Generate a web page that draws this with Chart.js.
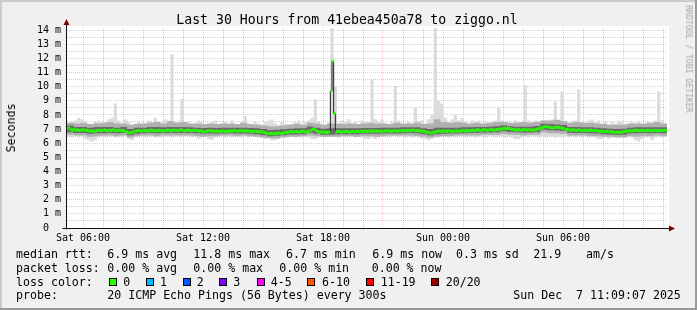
<!DOCTYPE html>
<html>
<head>
<meta charset="utf-8">
<script src="https://cdn.jsdelivr.net/npm/chart.js@4"></script>
<style>
  html, body { margin: 0; padding: 0; background: #f0f0f0; }
  #wrap { position: relative; width: 697px; height: 310px; overflow: hidden; }
  #smoke { position: absolute; left: 0; top: 0; display: block; }
  .t { position: absolute; font-family: 'DejaVu Sans Mono', monospace; white-space: pre; color: #000; }
  .leg { font-size: 11.6px; line-height: 14px; }
  .box { position: absolute; width: 6px; height: 6px; border: 1px solid #000; }
</style>
</head>
<body>
<div id="wrap">
  <canvas id="smoke" width="697" height="310"></canvas>

  <div class="t" style="font-size:13.2px; line-height:16px; left:347px; top:11.8px; transform:translateX(-50%);">Last 30 Hours from 41ebea450a78 to ziggo.nl</div>
  <div class="t" style="font-size:11.6px; line-height:14px; left:11px; top:128px; transform:translate(-50%,-50%) rotate(-90deg);">Seconds</div>
  <div class="t" style="font-size:8.1px; line-height:10px; left:689px; top:58.5px; color:#a4a4a4; transform:translate(-50%,-50%) rotate(90deg);">RRDTOOL / TOBI OETIKER</div>

  <div class="t leg" style="left:16px; top:247.3px;">median rtt:</div>
  <div class="t leg" style="left:107.3px; top:247.3px;">6.9 ms avg</div>
  <div class="t leg" style="left:193.3px; top:247.3px;">11.8 ms max</div>
  <div class="t leg" style="left:286px; top:247.3px;">6.7 ms min</div>
  <div class="t leg" style="left:372.3px; top:247.3px;">6.9 ms now</div>
  <div class="t leg" style="left:456px; top:247.3px;">0.3 ms sd</div>
  <div class="t leg" style="left:533.3px; top:247.3px;">21.9</div>
  <div class="t leg" style="left:586px; top:247.3px;">am/s</div>

  <div class="t leg" style="left:16px; top:260.6px;">packet loss:</div>
  <div class="t leg" style="left:107.3px; top:260.6px;">0.00 % avg</div>
  <div class="t leg" style="left:193.3px; top:260.6px;">0.00 % max</div>
  <div class="t leg" style="left:279.3px; top:260.6px;">0.00 % min</div>
  <div class="t leg" style="left:371.7px; top:260.6px;">0.00 % now</div>

  <div class="t leg" style="left:16px; top:274.6px;">loss color:</div>
  <div id="lossLegend"></div>

  <div class="t leg" style="left:16px; top:288px;">probe:</div>
  <div class="t leg" style="left:107.3px; top:288px;">20 ICMP Echo Pings (56 Bytes) every 300s</div>
  <div class="t leg" style="left:513.3px; top:288px;">Sun Dec  7 11:09:07 2025</div>
</div>

<script>
// graph window: minutes since Sat 00:00, 30 hours wide
const startMin = 312;
const endMin = startMin + 30 * 60;

const timeTicks = [360, 720, 1080, 1440, 1800];
const timeLabels = ['Sat 06:00', 'Sat 12:00', 'Sat 18:00', 'Sun 00:00', 'Sun 06:00'];

const lossLabels = ['0', '1', '2', '3', '4-5', '6-10', '11-19', '20/20'];
const lossColors = ['#26ff00', '#00b8ff', '#0059ff', '#7e00ff', '#ff00ff', '#ff5500', '#ff0000', '#a00000'];

// median rtt in ms, one value per 5 minutes
const medianRtt = [
  7.05, 7.08, 6.95, 6.93, 6.97, 6.92, 6.94, 6.9, 6.93, 6.95, 6.91, 6.93, 6.9,
  6.88, 6.85, 6.87, 6.83, 6.88,
  6.9, 6.92, 6.88, 6.91, 6.93, 6.9, 6.89, 6.92, 6.9, 6.94, 6.91, 6.88, 6.9, 6.92, 6.89, 6.9, 6.87,
  6.8, 6.75, 6.72, 6.74, 6.78, 6.82,
  6.86, 6.88, 6.9, 6.87, 6.89, 6.91, 6.88, 6.86, 6.9, 6.92, 6.89, 6.87, 6.9, 6.88, 6.91, 6.89, 6.86, 6.88, 6.9,
  6.92, 6.9, 6.88, 6.91, 6.93, 6.9, 6.89, 6.92, 6.95, 6.91, 6.88, 6.9, 6.93, 6.9, 6.87, 6.89, 6.92, 6.9, 6.88, 6.86, 6.88,
  6.84, 6.8, 6.83, 6.87, 6.9, 6.88,
  6.85, 6.83, 6.86, 6.84, 6.82, 6.85, 6.87, 6.84, 6.83, 6.86, 6.88, 6.85,
  6.87, 6.89, 6.86, 6.84, 6.88, 6.9, 6.87, 6.85, 6.88, 6.86, 6.84, 6.85,
  6.82, 6.84, 6.81, 6.83, 6.8, 6.82, 6.79, 6.76, 6.72,
  6.68, 6.66, 6.69, 6.67, 6.7, 6.68, 6.72, 6.7, 6.68, 6.71, 6.74, 6.76,
  6.78, 6.8, 6.82, 6.79, 6.81, 6.83, 6.8, 6.78, 6.82, 6.84, 6.81, 6.8, 6.83, 6.86, 6.92,
  7.0, 6.98, 6.9, 6.82,
  6.78, 6.8, 6.77, 6.79, 6.76, 6.78, 6.8,
  9.7, 11.8, 8.1,
  6.8, 6.83, 6.81, 6.78, 6.82, 6.8, 6.84, 6.82, 6.79, 6.81, 6.83, 6.8, 6.82, 6.84, 6.81,
  6.85, 6.83, 6.86, 6.84, 6.82, 6.85, 6.87, 6.84, 6.86, 6.88, 6.85, 6.83, 6.86, 6.84, 6.87, 6.85, 6.88, 6.86, 6.84, 6.87, 6.89, 6.86, 6.85, 6.88,
  6.88, 6.9, 6.87, 6.89, 6.91, 6.88, 6.9, 6.92, 6.89, 6.87, 6.9, 6.88, 6.86, 6.84, 6.82, 6.8,
  6.76, 6.74, 6.72, 6.75, 6.78, 6.82,
  6.84, 6.86, 6.83, 6.85, 6.87, 6.84, 6.86, 6.88, 6.85, 6.83, 6.86, 6.88, 6.86, 6.84, 6.87, 6.89, 6.86, 6.88, 6.9, 6.87,
  6.9, 6.92, 6.89, 6.93, 6.95, 6.92, 6.9, 6.94, 6.96, 6.93, 6.91, 6.95, 6.97, 6.94, 6.92, 6.96, 6.98, 6.95,
  7.0, 7.03, 7.05, 7.02, 7.06, 7.04, 7.0, 6.98,
  6.95, 6.93, 6.96, 6.94, 6.92, 6.95, 6.97, 6.94, 6.93, 6.96, 6.94, 6.92, 6.95, 6.98, 7.0, 7.04, 7.08,
  7.12, 7.16, 7.18, 7.15, 7.12, 7.1,
  7.08, 7.1, 7.12, 7.14, 7.11, 7.08, 7.05, 7.02, 6.98,
  6.96, 6.94, 6.92, 6.95, 6.93, 6.9, 6.92, 6.94, 6.91, 6.89, 6.92, 6.9, 6.88, 6.91, 6.93, 6.9, 6.88, 6.9, 6.87, 6.85, 6.84,
  6.82, 6.84, 6.81, 6.83, 6.8, 6.82, 6.79, 6.77, 6.76, 6.78, 6.75, 6.77, 6.8, 6.83, 6.85,
  6.87, 6.89, 6.86, 6.88, 6.9, 6.92, 6.89, 6.87, 6.9, 6.91, 6.88, 6.9, 6.92, 6.89, 6.87, 6.9, 6.92, 6.9, 6.88, 6.91, 6.89, 6.9, 6.92, 6.9
];

// slowest and fastest ping, one value per 10 minutes
const pingMax = [
  7.4, 7.5, 7.6, 7.8, 7.7, 7.5, 7.4, 7.3, 7.5, 7.6,
  7.4, 7.5, 7.7, 7.8, 8.8, 7.6, 7.4, 7.7, 7.5, 7.3,
  7.4, 7.5, 7.3, 7.4, 7.6, 7.5, 7.8, 7.4, 7.5, 7.7,
  7.6, 12.3, 7.5, 7.6, 9.15, 7.4, 7.5, 7.3, 7.4, 7.6,
  7.5, 7.3, 7.4, 7.5, 7.6, 7.3, 7.4, 7.5, 7.3, 7.6,
  7.4, 7.3, 7.5, 7.9, 7.4, 7.3, 7.5, 7.4, 7.3, 7.5,
  7.6, 7.7, 7.4, 7.3, 7.5, 7.4, 7.3, 7.4, 7.5, 7.6,
  7.4, 7.5, 7.6, 7.8, 9.1, 7.5, 7.4, 7.3, 7.4, 14.3,
  10.0, 7.4, 7.6, 7.5, 7.7, 7.4, 7.5, 7.3, 7.6, 7.5,
  7.4, 10.55, 7.7, 7.5, 7.7, 7.4, 7.3, 7.5, 10.05, 7.6,
  7.4, 7.3, 7.5, 7.4, 8.5, 7.5, 7.6, 7.4, 7.7, 8.0,
  14.3, 9.0, 8.8, 7.8, 7.5, 7.7, 8.0, 7.6, 7.8, 7.5,
  7.4, 7.6, 7.5, 7.6, 7.4, 7.5, 7.3, 7.5, 7.6, 8.5,
  7.6, 7.4, 7.5, 7.4, 7.6, 7.5, 7.4, 10.1, 7.6, 7.5,
  7.6, 7.4, 7.5, 7.6, 7.5, 7.7, 8.95, 7.6, 9.65, 7.5,
  7.4, 7.5, 7.6, 9.8, 7.5, 7.4, 7.6, 7.7, 7.5, 7.6,
  7.4, 7.5, 7.3, 7.5, 7.4, 7.6, 7.5, 7.4, 7.3, 7.5,
  7.4, 7.5, 7.3, 7.4, 7.5, 7.4, 7.6, 9.65, 7.6, 7.4
];
const pingMin = [
  6.5, 6.4, 6.5, 6.4, 6.5, 6.3, 6.2, 6.1, 6.2, 6.4,
  6.5, 6.4, 6.5, 6.5, 6.4, 6.5, 6.4, 6.5, 6.3, 6.2,
  6.4, 6.5, 6.5, 6.4, 6.5, 6.5, 6.4, 6.5, 6.4, 6.5,
  6.5, 6.4, 6.5, 6.5, 6.4, 6.5, 6.5, 6.4, 6.5, 6.3,
  6.4, 6.5, 6.3, 6.2, 6.4, 6.5, 6.5, 6.4, 6.5, 6.4,
  6.5, 6.5, 6.4, 6.5, 6.4, 6.5, 6.5, 6.4, 6.4, 6.3,
  6.4, 6.2, 6.2, 6.3, 6.4, 6.5, 6.4, 6.5, 6.4, 6.5,
  6.4, 6.5, 6.4, 6.3, 6.3, 6.4, 6.5, 6.4, 6.5, 6.5,
  6.6, 6.4, 6.5, 6.4, 6.5, 6.5, 6.4, 6.5, 6.4, 6.3,
  6.3, 6.4, 6.3, 6.4, 6.5, 6.5, 6.4, 6.5, 6.5, 6.4,
  6.5, 6.4, 6.5, 6.4, 6.5, 6.4, 6.3, 6.3, 6.2, 6.3,
  6.4, 6.4, 6.5, 6.5, 6.4, 6.5, 6.4, 6.5, 6.5, 6.4,
  6.5, 6.5, 6.4, 6.5, 6.5, 6.4, 6.5, 6.5, 6.4, 6.5,
  6.5, 6.4, 6.5, 6.4, 6.3, 6.3, 6.4, 6.5, 6.4, 6.5,
  6.5, 6.4, 6.5, 6.4, 6.5, 6.5, 6.4, 6.5, 6.4, 6.5,
  6.4, 6.5, 6.4, 6.5, 6.4, 6.5, 6.4, 6.5, 6.4, 6.3,
  6.3, 6.4, 6.3, 6.4, 6.5, 6.4, 6.5, 6.4, 6.5, 6.4,
  6.2, 6.1, 6.3, 6.4, 6.5, 6.2, 6.4, 6.5, 6.4, 6.5
];

// outer and inner smoke bands, one value per 20 minutes
const bandHi = [
  7.45, 7.4, 7.45, 7.35, 7.4, 7.45, 7.5, 7.4, 7.4, 7.3,
  7.35, 7.4, 7.45, 7.5, 7.4, 7.55, 7.45, 7.5, 7.4, 7.4,
  7.35, 7.4, 7.35, 7.4, 7.4, 7.35, 7.45, 7.35, 7.3, 7.25,
  7.2, 7.2, 7.25, 7.3, 7.35, 7.3, 7.45, 7.4, 7.3, 7.4,
  7.4, 7.35, 7.4, 7.35, 7.4, 7.45, 7.4, 7.4, 7.35, 7.45,
  7.4, 7.4, 7.45, 7.35, 7.4, 7.7, 7.5, 7.45, 7.5, 7.45,
  7.4, 7.45, 7.4, 7.45, 7.5, 7.5, 7.45, 7.45, 7.5, 7.45,
  7.5, 7.6, 7.6, 7.65, 7.55, 7.45, 7.5, 7.45, 7.45, 7.4,
  7.35, 7.3, 7.3, 7.3, 7.4, 7.4, 7.4, 7.45, 7.5, 7.4
];
const bandLo = [
  6.6, 6.55, 6.55, 6.45, 6.5, 6.55, 6.55, 6.5, 6.55, 6.4,
  6.5, 6.55, 6.55, 6.5, 6.55, 6.55, 6.55, 6.55, 6.55, 6.5,
  6.45, 6.5, 6.5, 6.55, 6.55, 6.5, 6.55, 6.5, 6.45, 6.4,
  6.35, 6.35, 6.4, 6.45, 6.45, 6.5, 6.55, 6.5, 6.45, 6.45,
  6.45, 6.5, 6.5, 6.45, 6.5, 6.5, 6.45, 6.5, 6.55, 6.55,
  6.55, 6.55, 6.5, 6.45, 6.4, 6.45, 6.5, 6.5, 6.55, 6.55,
  6.55, 6.55, 6.6, 6.6, 6.6, 6.65, 6.6, 6.6, 6.55, 6.6,
  6.6, 6.75, 6.7, 6.7, 6.65, 6.55, 6.55, 6.55, 6.5, 6.5,
  6.45, 6.45, 6.4, 6.4, 6.5, 6.45, 6.5, 6.5, 6.55, 6.5
];
const coreHi = [
  7.25, 7.15, 7.15, 7.1, 7.15, 7.15, 7.15, 7.1, 7.15, 7.0,
  7.1, 7.1, 7.15, 7.15, 7.12, 7.15, 7.15, 7.15, 7.12, 7.1,
  7.08, 7.1, 7.08, 7.1, 7.1, 7.1, 7.1, 7.07, 7.05, 7.0,
  6.92, 6.95, 6.98, 7.03, 7.05, 7.06, 7.18, 7.1, 7.02, 7.05,
  7.05, 7.05, 7.06, 7.05, 7.08, 7.08, 7.08, 7.1, 7.1, 7.1,
  7.12, 7.13, 7.12, 7.05, 7.0, 7.1, 7.1, 7.1, 7.1, 7.12,
  7.13, 7.15, 7.15, 7.17, 7.2, 7.25, 7.2, 7.17, 7.17, 7.16,
  7.22, 7.38, 7.35, 7.32, 7.28, 7.15, 7.15, 7.13, 7.13, 7.1,
  7.05, 7.03, 7.0, 7.03, 7.1, 7.12, 7.13, 7.12, 7.13, 7.12
];
const coreLo = [
  6.77, 6.72, 6.72, 6.67, 6.7, 6.7, 6.72, 6.7, 6.72, 6.57,
  6.67, 6.7, 6.72, 6.7, 6.72, 6.72, 6.72, 6.72, 6.72, 6.7,
  6.66, 6.68, 6.67, 6.68, 6.7, 6.69, 6.68, 6.66, 6.64, 6.57,
  6.5, 6.52, 6.57, 6.62, 6.62, 6.64, 6.74, 6.66, 6.6, 6.6,
  6.62, 6.64, 6.64, 6.64, 6.67, 6.67, 6.66, 6.68, 6.68, 6.69,
  6.7, 6.72, 6.7, 6.64, 6.57, 6.64, 6.67, 6.68, 6.68, 6.7,
  6.72, 6.74, 6.75, 6.76, 6.78, 6.84, 6.8, 6.77, 6.76, 6.76,
  6.8, 6.96, 6.92, 6.9, 6.86, 6.74, 6.72, 6.72, 6.7, 6.68,
  6.64, 6.62, 6.58, 6.6, 6.69, 6.7, 6.72, 6.7, 6.72, 6.7
];

const majorGrid = 'rgba(222,81,81,0.33)';
const minorGrid = 'rgba(143,143,143,0.46)';

// points sit in the middle of their step; pad both ends so stepped areas reach the edges
function toPoints(values, step) {
  const pts = values.map((v, i) => ({ x: startMin + step * i + step / 2, y: v }));
  pts.unshift({ x: startMin, y: values[0] });
  pts.push({ x: startMin + step * values.length, y: values[values.length - 1] });
  return pts;
}

function band(values, step, fillTo, color, order) {
  return {
    data: toPoints(values, step),
    fill: fillTo,
    backgroundColor: color,
    borderColor: 'rgba(0,0,0,0)',
    borderWidth: 0,
    pointRadius: 0,
    stepped: 'middle',
    order: order
  };
}

// loss colour legend boxes
const legendEl = document.getElementById('lossLegend');
const boxLeft = [108.7, 145.7, 182.7, 219.3, 256.7, 307.3, 365.7, 430.7];
const textLeft = [123.3, 160, 196.7, 233.3, 270.7, 322, 380.7, 445.7];
lossLabels.forEach((label, i) => {
  const b = document.createElement('div');
  b.className = 'box';
  b.style.left = boxLeft[i] + 'px';
  b.style.top = '278px';
  b.style.background = lossColors[i];
  legendEl.appendChild(b);
  const t = document.createElement('div');
  t.className = 't leg';
  t.style.left = textLeft[i] + 'px';
  t.style.top = '274.6px';
  t.textContent = label;
  legendEl.appendChild(t);
});

const rrdFrame = {
  id: 'rrdFrame',
  beforeDraw(chart) {
    const { ctx, chartArea: a } = chart;
    ctx.save();
    ctx.fillStyle = '#f0f0f0';
    ctx.fillRect(0, 0, chart.width, chart.height);
    ctx.fillStyle = '#ffffff';
    ctx.fillRect(a.left, a.top - 2, a.right - a.left + 2, a.bottom - a.top + 2);
    ctx.fillStyle = '#cbcbcb';
    ctx.fillRect(0, 0, chart.width, 2);
    ctx.fillRect(0, 0, 2, chart.height);
    ctx.fillStyle = '#999999';
    ctx.fillRect(0, chart.height - 2, chart.width, 2);
    ctx.fillRect(chart.width - 2, 0, 2, chart.height);
    ctx.restore();
  },
  afterDatasetsDraw(chart) {
    const { ctx, chartArea: a } = chart;
    const x0 = a.left - 0.5, y0 = a.bottom + 0.5;
    ctx.save();
    ctx.strokeStyle = '#101010';
    ctx.lineWidth = 1;
    ctx.beginPath();
    ctx.moveTo(x0, y0 + 1);
    ctx.lineTo(x0, a.top - 4);
    ctx.moveTo(x0 - 4, y0);
    ctx.lineTo(a.right + 3, y0);
    ctx.stroke();
    ctx.fillStyle = '#7f0000';
    ctx.beginPath();
    ctx.moveTo(x0 - 3, a.top - 3);
    ctx.lineTo(x0 + 3, a.top - 3);
    ctx.lineTo(x0, a.top - 9);
    ctx.closePath();
    ctx.fill();
    ctx.beginPath();
    ctx.moveTo(a.right + 2, y0 - 3);
    ctx.lineTo(a.right + 2, y0 + 3);
    ctx.lineTo(a.right + 8, y0);
    ctx.closePath();
    ctx.fill();
    ctx.restore();
  }
};

const ctx = document.getElementById('smoke').getContext('2d');
const smokeChart = new Chart(ctx, {
  type: 'line',
  data: {
    datasets: [
      {
        data: medianRtt.map((v, i) => ({ x: startMin + 5 * i + 2.5, y: v })),
        showLine: false,
        pointStyle: 'line',
        pointRadius: 0.9,
        pointBorderWidth: 3,
        pointBorderColor: lossColors[0],
        pointBackgroundColor: lossColors[0],
        order: 0
      },
      {
        data: toPoints(medianRtt, 5),
        borderColor: '#202020',
        borderWidth: 1,
        pointRadius: 0,
        stepped: 'middle',
        fill: false,
        order: 1
      },
      band(coreHi, 20, 3, '#6a6a6a', 2),
      band(coreLo, 20, false, 'rgba(0,0,0,0)', 2),
      band(bandHi, 20, 5, '#b0b0b0', 3),
      band(bandLo, 20, false, 'rgba(0,0,0,0)', 3),
      band(pingMax, 10, 7, '#dcdcdc', 4),
      band(pingMin, 10, false, 'rgba(0,0,0,0)', 4)
    ]
  },
  options: {
    responsive: false,
    animation: false,
    events: [],
    layout: { padding: { left: 0, right: 30, top: 28, bottom: 0 } },
    plugins: { legend: { display: false }, tooltip: { enabled: false } },
    scales: {
      x: {
        type: 'linear',
        min: startMin,
        max: endMin,
        afterBuildTicks: scale => {
          const ticks = [];
          for (let t = Math.ceil(startMin / 60) * 60; t < endMin; t += 60) ticks.push({ value: t });
          scale.ticks = ticks;
        },
        afterFit: scale => { scale.height = 82; },
        grid: {
          color: c => (c.tick && c.tick.value % 180 === 0 ? majorGrid : minorGrid),
          lineWidth: 1,
          drawTicks: false
        },
        border: { display: false, dash: [1, 1] },
        ticks: {
          autoSkip: false,
          maxRotation: 0,
          padding: 4.5,
          color: '#000',
          font: { family: 'DejaVu Sans Mono', size: 10 },
          callback: v => {
            const k = timeTicks.indexOf(v);
            return k < 0 ? '' : timeLabels[k];
          }
        }
      },
      y: {
        min: 0,
        max: 14.15,
        afterBuildTicks: scale => {
          const ticks = [];
          for (let k = 0; k <= 28; k++) ticks.push({ value: k / 2 });
          scale.ticks = ticks;
        },
        afterFit: scale => { scale.width = 67; },
        grid: {
          color: c => (c.tick && Number.isInteger(c.tick.value) ? majorGrid : minorGrid),
          lineWidth: 1,
          drawTicks: false
        },
        border: { display: false, dash: [1, 1] },
        ticks: {
          autoSkip: false,
          padding: 6,
          color: '#000',
          font: { family: 'DejaVu Sans Mono', size: 10 },
          callback: v => {
            if (!Number.isInteger(v)) return '';
            return v === 0 ? '0  ' : v + ' m';
          }
        }
      }
    }
  },
  plugins: [rrdFrame]
});
</script>
</body>
</html>
